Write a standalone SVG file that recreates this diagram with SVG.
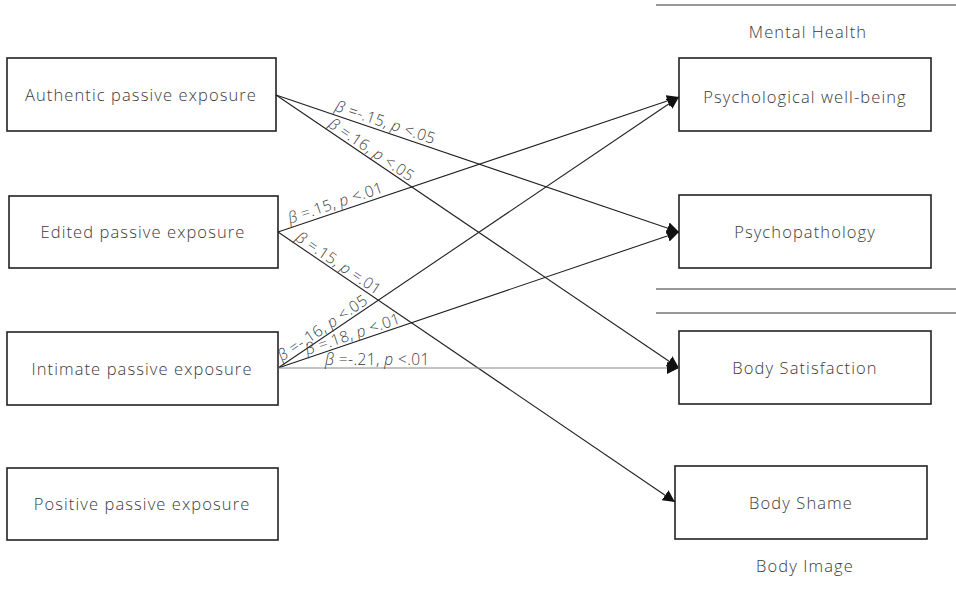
<svg xmlns="http://www.w3.org/2000/svg" width="956" height="594" viewBox="0 0 956 594">
  <defs>
    <marker id="arrow" viewBox="0 0 10 10" refX="10" refY="5" markerWidth="12" markerHeight="12" markerUnits="userSpaceOnUse" orient="auto">
      <path d="M0,0 L10,5 L0,10 z" fill="#111"/>
    </marker>
    <style>
      .box { fill: #fff; stroke: #222; stroke-width: 1.6; }
      .lbl { font-family: "Open Sans", "Liberation Sans", sans-serif; font-weight: 300; font-size: 16.5px; letter-spacing: 1.1px; fill: #3a3a3a; text-anchor: middle; }
      .coef { font-family: "Open Sans", "Liberation Sans", sans-serif; font-weight: 300; font-size: 15.5px; letter-spacing: 0.4px; fill: #3a3a3a; }
      .it { font-style: italic; }
      .edge { stroke: #222; stroke-width: 1.1; fill: none; marker-end: url(#arrow); }
      .edge-light { stroke: #888; stroke-width: 1; fill: none; marker-end: url(#arrow); }
      .rule { stroke: #333; stroke-width: 1.2; }
    </style>
  </defs>

  <rect width="956" height="594" fill="#fff"/>

  <!-- section rules and headings -->
  <g id="groups">
    <line class="rule" x1="656" y1="5" x2="956" y2="5"/>
    <text class="lbl" x="808" y="38">Mental Health</text>
    <line class="rule" x1="656" y1="289" x2="956" y2="289"/>
    <line class="rule" x1="656" y1="313" x2="956" y2="313"/>
    <text class="lbl" x="805" y="572">Body Image</text>
  </g>

  <!-- predictors -->
  <g id="authentic">
    <rect class="box" x="7" y="58" width="269" height="73"/>
    <text class="lbl" x="141" y="101">Authentic passive exposure</text>
  </g>
  <g id="edited">
    <rect class="box" x="9" y="196" width="269" height="72"/>
    <text class="lbl" x="143" y="238">Edited passive exposure</text>
  </g>
  <g id="intimate">
    <rect class="box" x="7" y="332" width="271" height="73"/>
    <text class="lbl" x="142" y="375">Intimate passive exposure</text>
  </g>
  <g id="positive">
    <rect class="box" x="7" y="468" width="271" height="72"/>
    <text class="lbl" x="142" y="510">Positive passive exposure</text>
  </g>

  <!-- outcomes -->
  <g id="wellbeing">
    <rect class="box" x="679" y="58" width="252" height="73"/>
    <text class="lbl" x="805" y="103">Psychological well-being</text>
  </g>
  <g id="psychopathology">
    <rect class="box" x="679" y="195" width="252" height="73"/>
    <text class="lbl" x="805" y="238">Psychopathology</text>
  </g>
  <g id="satisfaction">
    <rect class="box" x="679" y="331" width="252" height="73"/>
    <text class="lbl" x="805" y="374">Body Satisfaction</text>
  </g>
  <g id="shame">
    <rect class="box" x="675" y="466" width="252" height="73"/>
    <text class="lbl" x="801" y="509">Body Shame</text>
  </g>

  <!-- paths with coefficients -->
  <g id="connectors">
    <line class="edge" x1="276" y1="95" x2="679" y2="232"/>
    <line class="edge" x1="276" y1="95" x2="679" y2="368"/>
    <line class="edge" x1="278" y1="232" x2="679" y2="97"/>
    <line class="edge" x1="278" y1="232" x2="675" y2="502"/>
    <line class="edge" x1="278" y1="368" x2="679" y2="97"/>
    <line class="edge" x1="278" y1="368" x2="679" y2="232"/>
    <line class="edge-light" x1="278" y1="368" x2="679" y2="368"/>

    <text class="coef" transform="translate(276,95) rotate(18.77)" x="60" y="-4"><tspan class="it">β</tspan> =-.15, <tspan class="it">p</tspan> &lt;.05</text>
    <text class="coef" transform="translate(276,95) rotate(34.1)" x="60" y="-3"><tspan class="it">β</tspan> =.16, <tspan class="it">p</tspan> &lt;.05</text>
    <text class="coef" transform="translate(278,232) rotate(-18.6)" x="14" y="-4"><tspan class="it">β</tspan> =.15, <tspan class="it">p</tspan> &lt;.01</text>
    <text class="coef" transform="translate(278,232) rotate(34.2)" x="18" y="-3"><tspan class="it">β</tspan> =.15, <tspan class="it">p</tspan> =.01</text>
    <text class="coef" transform="translate(278,368) rotate(-34.05)" x="7" y="-3"><tspan class="it">β</tspan> =-.16, <tspan class="it">p</tspan> &lt;.05</text>
    <text class="coef" transform="translate(278,368) rotate(-18.7)" x="32" y="-3"><tspan class="it">β</tspan> =.18, <tspan class="it">p</tspan> &lt;.01</text>
    <text class="coef" x="325" y="365"><tspan class="it">β</tspan> =-.21, <tspan class="it">p</tspan> &lt;.01</text>
  </g>
</svg>
